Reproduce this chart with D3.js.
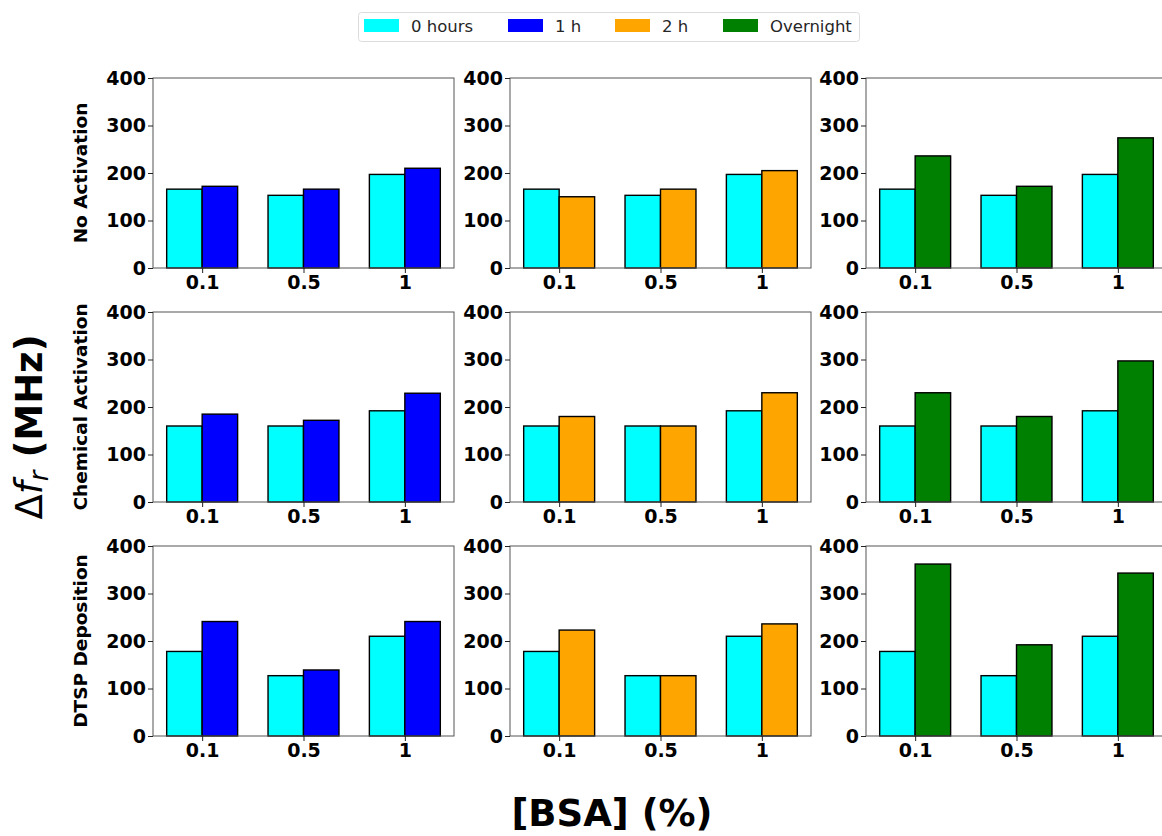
<!DOCTYPE html>
<html>
<head>
<meta charset="utf-8">
<script src="https://cdn.jsdelivr.net/npm/d3@7"></script>
<style>
  html, body { margin: 0; padding: 0; background: #fff; }
  svg { display: block; font-family: "DejaVu Sans", sans-serif; }
</style>
</head>
<body>
<svg id="chart" width="1162" height="836"></svg>
<script>
// ---- data ----
const categories = ["0.1", "0.5", "1"];
const rowLabels = ["No Activation", "Chemical Activation", "DTSP Deposition"];
const seriesNames = ["0 hours", "1 h", "2 h", "Overnight"];
const seriesColors = ["#00ffff", "#0000ff", "#ffa500", "#008000"];
const yTicks = [0, 100, 200, 300, 400];

// baseline (0 hours), one array per row
const hours0 = [
  [166, 153, 197],
  [160, 160, 192],
  [178, 127, 210]
];
const hours1 = [
  [172, 166, 210],
  [185, 172, 229],
  [241, 139, 241]
];
const hours2 = [
  [150, 166, 205],
  [180, 160, 230],
  [223, 127, 236]
];
const overnight = [
  [236, 172, 274],
  [230, 180, 297],
  [362, 192, 343]
];
const columnSeries = [hours1, hours2, overnight]; // column -> comparison series
const columnColorIndex = [1, 2, 3];

// ---- layout ----
const svg = d3.select("#chart");
const colLeft = [153, 510, 866];
const rowTop = [78, 312, 546];
const pw = 301, ph = 190;
const barW = 0.35;

const x = d3.scaleLinear().domain([-0.485, 2.485]).range([0, pw]);
const y = d3.scaleLinear().domain([0, 400]).range([ph, 0]);

for (let r = 0; r < 3; r++) {
  for (let c = 0; c < 3; c++) {
    const g = svg.append("g").attr("transform", `translate(${colLeft[c]},${rowTop[r]})`);
    const base = hours0[r];
    const comp = columnSeries[c][r];
    const color = seriesColors[columnColorIndex[c]];

    // bars
    g.selectAll("rect.b0").data(base).enter().append("rect")
      .attr("x", (d, i) => x(i - barW))
      .attr("y", d => y(d))
      .attr("width", x(barW) - x(0))
      .attr("height", d => y(0) - y(d))
      .attr("fill", seriesColors[0])
      .attr("stroke", "#000").attr("stroke-width", 1.4);
    g.selectAll("rect.b1").data(comp).enter().append("rect")
      .attr("x", (d, i) => x(i))
      .attr("y", d => y(d))
      .attr("width", x(barW) - x(0))
      .attr("height", d => y(0) - y(d))
      .attr("fill", color)
      .attr("stroke", "#000").attr("stroke-width", 1.4);

    // spines
    g.append("rect").attr("x", 0).attr("y", 0).attr("width", pw).attr("height", ph)
      .attr("fill", "none").attr("stroke", "#555").attr("stroke-width", 1);

    // axes
    const ya = g.append("g").call(d3.axisLeft(y).tickValues(yTicks).tickSize(5).tickPadding(2));
    ya.select(".domain").remove();
    ya.selectAll("text").attr("font-size", 19).attr("font-weight", "bold").attr("fill", "#000")
      .attr("font-family", "DejaVu Sans");
    ya.selectAll("line").attr("stroke", "#222");

    const xa = g.append("g").attr("transform", `translate(0,${ph})`)
      .call(d3.axisBottom(x).tickValues([0, 1, 2]).tickFormat(i => categories[i]).tickSize(5).tickPadding(3));
    xa.select(".domain").remove();
    xa.selectAll("text").attr("font-size", 19).attr("font-weight", "bold").attr("fill", "#000")
      .attr("font-family", "DejaVu Sans");
    xa.selectAll("line").attr("stroke", "#222");
  }
  // row label
  svg.append("text")
    .attr("transform", `translate(87,${rowTop[r] + ph / 2}) rotate(-90)`)
    .attr("text-anchor", "middle")
    .attr("font-size", 18.5).attr("font-weight", "bold").attr("fill", "#000")
    .text(rowLabels[r]);
}

// x label
svg.append("text")
  .attr("x", 612).attr("y", 826)
  .attr("text-anchor", "middle")
  .attr("font-size", 37).attr("font-weight", "bold").attr("fill", "#000")
  .text("[BSA] (%)");

// y label
const yl = svg.append("text")
  .attr("transform", "translate(42,427) rotate(-90)")
  .attr("text-anchor", "middle")
  .attr("font-size", 37).attr("fill", "#000");
yl.append("tspan").text("Δ");
yl.append("tspan").attr("font-style", "italic").text("f");
yl.append("tspan").attr("font-style", "italic").attr("font-size", 26).attr("dy", 6).text("r");
yl.append("tspan").attr("font-weight", "bold").attr("dy", -6).text(" (MHz)");

// legend
const lg = svg.append("g");
lg.append("rect").attr("x", 358.5).attr("y", 12.5).attr("width", 501).attr("height", 29)
  .attr("rx", 3).attr("fill", "#fff").attr("stroke", "#dcdcdc").attr("stroke-width", 1);
const legX = [364, 508, 615, 723];
seriesNames.forEach((n, i) => {
  lg.append("rect").attr("x", legX[i]).attr("y", 19).attr("width", 35).attr("height", 13)
    .attr("fill", seriesColors[i]);
  lg.append("text").attr("x", legX[i] + 47).attr("y", 32)
    .attr("font-size", 16.5).attr("fill", "#262626").text(n);
});
</script>
</body>
</html>
